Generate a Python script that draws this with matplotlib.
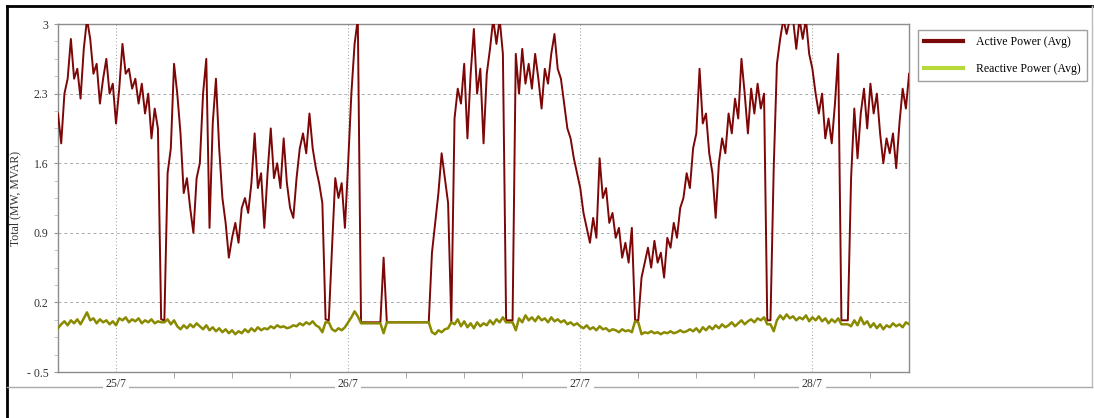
import numpy as np
import pandas as pd
import matplotlib
matplotlib.use("Agg")
import matplotlib.pyplot as plt
from matplotlib.lines import Line2D

# Data: 20-minute averages, starting 24/7 18:00
start_time = "2024-07-24 18:00"
sample_freq = "20min"

active_power = [
    2.1, 1.8, 2.3, 2.45, 2.85, 2.45, 2.55, 2.25, 2.75, 3.05, 2.85, 2.5, 2.6, 2.2, 2.45, 2.65, 2.3, 2.4,
    2.0, 2.35, 2.8, 2.5, 2.55, 2.35, 2.45, 2.2, 2.4, 2.1, 2.3, 1.85, 2.15, 1.95, 0.03, 0.02, 1.5, 1.75,
    2.6, 2.3, 1.9, 1.3, 1.45, 1.15, 0.9, 1.45, 1.6, 2.3, 2.65, 0.95, 2.0, 2.45, 1.75, 1.25, 1.0, 0.65,
    0.85, 1.0, 0.8, 1.15, 1.25, 1.1, 1.4, 1.9, 1.35, 1.5, 0.95, 1.5, 1.95, 1.45, 1.6, 1.35, 1.85, 1.4,
    1.15, 1.05, 1.45, 1.75, 1.9, 1.7, 2.1, 1.75, 1.55, 1.4, 1.2, 0.03, 0.02, 0.75, 1.45, 1.25, 1.4, 0.95,
    1.6, 2.3, 2.8, 3.05, 0.0, 0.0, 0.0, 0.0, 0.0, 0.0, 0.0, 0.65, 0.0, 0.0, 0.0, 0.0, 0.0, 0.0,
    0.0, 0.0, 0.0, 0.0, 0.0, 0.0, 0.0, 0.0, 0.7, 1.0, 1.3, 1.7, 1.45, 1.2, 0.0, 2.05, 2.35, 2.2,
    2.6, 1.85, 2.5, 2.95, 2.3, 2.55, 1.8, 2.5, 2.75, 3.05, 2.8, 3.05, 2.7, 0.02, 0.02, 0.02, 2.7, 2.3,
    2.75, 2.4, 2.6, 2.35, 2.7, 2.45, 2.15, 2.55, 2.4, 2.7, 2.9, 2.55, 2.45, 2.2, 1.95, 1.85, 1.65, 1.5,
    1.35, 1.1, 0.95, 0.8, 1.05, 0.85, 1.65, 1.25, 1.35, 1.0, 1.1, 0.85, 0.95, 0.65, 0.8, 0.6, 0.95, 0.02,
    0.02, 0.45, 0.6, 0.75, 0.55, 0.82, 0.6, 0.7, 0.45, 0.85, 0.75, 1.0, 0.85, 1.15, 1.25, 1.5, 1.35, 1.75,
    1.9, 2.55, 2.0, 2.1, 1.7, 1.5, 1.05, 1.6, 1.85, 1.7, 2.1, 1.9, 2.25, 2.05, 2.65, 2.3, 1.9, 2.35,
    2.1, 2.4, 2.15, 2.3, 0.02, 0.02, 1.55, 2.6, 2.85, 3.05, 2.9, 3.05, 3.05, 2.75, 3.05, 2.85, 3.05, 2.7,
    2.55, 2.3, 2.1, 2.3, 1.85, 2.05, 1.8, 2.2, 2.7, 0.02, 0.02, 0.02, 1.45, 2.15, 1.65, 2.1, 2.35, 1.95,
    2.4, 2.1, 2.3, 1.9, 1.6, 1.85, 1.7, 1.9, 1.55, 2.0, 2.35, 2.15, 2.5,
]

reactive_power = [
    -0.06, -0.02, 0.01, -0.03, 0.02, -0.01, 0.03, -0.02, 0.04, 0.1, 0.02, 0.04, -0.01, 0.03, 0.0, 0.02, -0.02, 0.01,
    -0.03, 0.04, 0.02, 0.05, 0.0, 0.03, 0.01, 0.04, -0.01, 0.02, 0.0, 0.03, -0.01, 0.01, 0.0, 0.0, 0.03, -0.02,
    0.02, -0.04, -0.07, -0.03, -0.06, -0.02, -0.05, -0.01, -0.04, -0.07, -0.03, -0.08, -0.05, -0.09, -0.06, -0.1, -0.07, -0.11,
    -0.08, -0.12, -0.09, -0.11, -0.07, -0.1, -0.06, -0.09, -0.05, -0.08, -0.06, -0.07, -0.04, -0.06, -0.03, -0.05, -0.04, -0.06,
    -0.05, -0.03, -0.04, -0.01, -0.03, 0.0, -0.02, 0.01, -0.03, -0.05, -0.1, 0.0, 0.0, -0.07, -0.09, -0.06, -0.08, -0.05,
    0.0, 0.05, 0.11, 0.06, -0.01, -0.01, -0.01, -0.01, -0.01, -0.01, -0.01, -0.11, 0.0, 0.0, 0.0, 0.0, 0.0, 0.0,
    0.0, 0.0, 0.0, 0.0, 0.0, 0.0, 0.0, 0.0, -0.1, -0.12, -0.08, -0.1, -0.07, -0.06, 0.0, -0.02, 0.03, -0.04,
    0.01, -0.05, -0.01, -0.06, 0.0, -0.04, -0.01, -0.03, 0.02, -0.02, 0.03, 0.0, 0.05, 0.0, 0.0, 0.0, -0.08, 0.04,
    0.0, 0.07, 0.02, 0.05, 0.01, 0.06, 0.02, 0.04, 0.0, 0.05, 0.01, 0.03, 0.0, 0.02, -0.02, 0.0, -0.03, -0.01,
    -0.04, -0.06, -0.03, -0.07, -0.05, -0.08, -0.04, -0.07, -0.06, -0.09, -0.07, -0.08, -0.1, -0.07, -0.09, -0.08, -0.1, 0.01,
    0.0, -0.12, -0.1, -0.11, -0.09, -0.11, -0.1, -0.12, -0.1, -0.11, -0.09, -0.11, -0.1, -0.08, -0.1, -0.09, -0.07, -0.09,
    -0.06, -0.1, -0.05, -0.08, -0.04, -0.07, -0.03, -0.06, -0.02, -0.05, -0.03, 0.0, -0.04, -0.01, 0.02, -0.02, 0.01, 0.03,
    0.0, 0.04, 0.02, 0.05, -0.02, -0.02, -0.09, 0.02, 0.07, 0.03, 0.08, 0.04, 0.06, 0.02, 0.05, 0.03, 0.07, 0.01,
    0.05, 0.02, 0.06, 0.01, 0.04, -0.01, 0.03, 0.0, 0.04, -0.02, -0.02, -0.02, -0.04, 0.02, -0.03, 0.05, -0.02, 0.01,
    -0.05, -0.01, -0.06, -0.02, -0.07, -0.03, -0.05, -0.01, -0.04, -0.02, -0.05, 0.0, -0.02,
]

day_ticks = ["2024-07-25", "2024-07-26", "2024-07-27", "2024-07-28"]
day_labels = ["25/7", "26/7", "27/7", "28/7"]
y_ticks = [-0.5, 0.2, 0.9, 1.6, 2.3, 3.0]
y_labels = ["- 0.5", "0.2", "0.9", "1.6", "2.3", "3"]

times = pd.date_range(start_time, periods=len(active_power), freq=sample_freq)

plt.rcParams['font.family'] = ['Liberation Serif', 'DejaVu Serif']

fig = plt.figure(figsize=(10.94, 4.18), dpi=100)
ax = fig.add_axes([0.053, 0.110, 0.778, 0.8325])

ax.plot(times, active_power, color='#7d0606', linewidth=1.4, zorder=3)
ax.plot(times, reactive_power, color='#8a8a00', linewidth=1.8, zorder=4)

ax.set_xlim(pd.Timestamp("2024-07-24 18:00"), pd.Timestamp("2024-07-28 10:00"))
ax.set_ylim(-0.5, 3.0)

# ticks
ax.set_xticks(pd.to_datetime(day_ticks))
ax.set_xticklabels(day_labels)
six_hours = pd.date_range("2024-07-25 00:00", "2024-07-28 06:00", freq="6h")
ax.set_xticks([t for t in six_hours if t.hour != 0], minor=True)
ax.set_yticks(y_ticks)
ax.set_yticklabels(y_labels)
ax.set_yticks(np.arange(-0.5, 3.01, 0.175), minor=True)

ax.tick_params(axis='x', which='major', length=0, pad=4, labelsize=8.5, colors='#333333')
ax.tick_params(axis='x', which='minor', length=4, color='#999999')
ax.tick_params(axis='y', which='major', length=3, labelsize=8.5, colors='#333333', color='#999999', pad=4)
ax.tick_params(axis='y', which='minor', length=3, color='#bbbbbb')
for lbl in ax.get_xticklabels():
    lbl.set_bbox(dict(facecolor='white', edgecolor='none', pad=2))

ax.grid(axis='y', which='major', linestyle=(0, (3, 3)), color='#aaaaaa', linewidth=0.7)
ax.grid(axis='x', which='major', linestyle=(0, (1, 2)), color='#aaaaaa', linewidth=0.8)

for sp in ax.spines.values():
    sp.set_color('#8c8c8c')
    sp.set_linewidth(1.0)

ax.set_ylabel('Total (MW, MVAR)', fontsize=8.5, color='#333333')
ax.yaxis.set_label_coords(-0.043, 0.5)

# outer frame
fig.add_artist(Line2D([0.0064, 0.998], [0.9856, 0.9856], color='black', linewidth=2, zorder=-1))
fig.add_artist(Line2D([0.0064, 0.0064], [0.0, 0.9856], color='black', linewidth=2, zorder=-1))
fig.add_artist(Line2D([0.998, 0.998], [0.074, 0.9856], color='#bbbbbb', linewidth=1, zorder=-1))
fig.add_artist(Line2D([0.0064, 0.998], [0.074, 0.074], color='#aaaaaa', linewidth=1, zorder=-1))

# legend
handles = [Line2D([], [], color='#7a0a0a', linewidth=3),
           Line2D([], [], color='#b8d93a', linewidth=3)]
fig.legend(handles, ['Active Power (Avg)', 'Reactive Power (Avg)'],
           loc='upper left', bbox_to_anchor=(918 / 1094, 1 - 30 / 418),
           borderaxespad=0, fontsize=8.5, frameon=True, fancybox=False,
           edgecolor='#888888', handlelength=3.3, labelspacing=1.2,
           borderpad=0.55, handletextpad=1.05)

plt.savefig('out.png', dpi=100)
